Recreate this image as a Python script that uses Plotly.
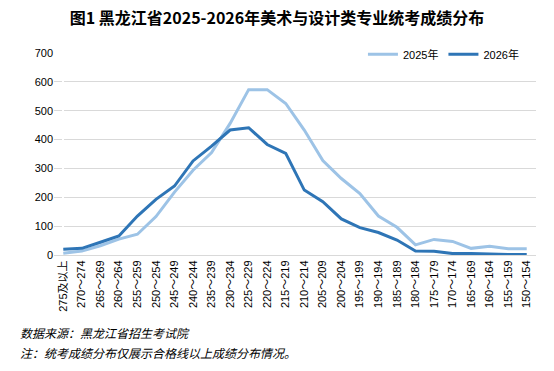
import plotly.graph_objects as go

categories = ["275及以上"] + [f"{s}～{s+4}" for s in range(270, 149, -5)]
values_2025 = [6, 14, 32, 55, 72, 133, 218, 294, 355, 456, 573, 573, 525, 433, 327, 265, 213, 135, 96, 35, 54, 47, 23, 30, 22, 22]
values_2026 = [20, 23, 44, 66, 135, 193, 239, 326, 377, 433, 441, 383, 352, 225, 185, 125, 95, 78, 52, 14, 13, 5, 5, 3, 2, 2]
series_names = ["2025年", "2026年"]
y_ticks = [0, 100, 200, 300, 400, 500, 600, 700]

fig = go.Figure()
fig.add_trace(go.Scatter(x=list(range(len(categories))), y=values_2025, mode="lines",
                         name=series_names[0], line=dict(color="#9DC3E6", width=3)))
fig.add_trace(go.Scatter(x=list(range(len(categories))), y=values_2026, mode="lines",
                         name=series_names[1], line=dict(color="#2E75B6", width=3)))

fig.update_layout(
    width=554, height=371,
    margin=dict(l=54, r=18, t=53, b=116, autoexpand=False),
    paper_bgcolor="white", plot_bgcolor="white",
    font=dict(family="Arial, Liberation Sans, Noto Sans CJK SC", size=11, color="#000000"),
    title=dict(text="<b>图1 黑龙江省2025-2026年美术与设计类专业统考成绩分布</b>",
               x=0.5, xanchor="center", y=0.950, yanchor="middle", yref="container",
               font=dict(family="Noto Sans CJK SC", size=16, color="#000000")),
    showlegend=True,
    legend=dict(orientation="h", x=0.975, xanchor="right", y=1.065, yanchor="top",
                bgcolor="rgba(0,0,0,0)", font=dict(size=11, family="Arial, Noto Sans CJK SC"),
                itemwidth=30, tracegroupgap=0),
    xaxis=dict(tickmode="array", tickvals=list(range(len(categories))), ticktext=categories,
               tickangle=-90, range=[-0.5, len(categories) - 0.5], showgrid=False,
               showline=True, linecolor="#d9d9d9", linewidth=1, ticks="", automargin=False,
               tickfont=dict(size=11, family="Arial, Noto Sans CJK SC")),
    yaxis=dict(range=[0, 700], tickvals=y_ticks, showgrid=True, gridcolor="#d9d9d9",
               gridwidth=1, zeroline=False, ticks="", automargin=False, tickfont=dict(size=11)),
)

fig.add_annotation(text="<i>数据来源：黑龙江省招生考试院</i>", xref="paper", yref="paper",
                   x=-0.075, xanchor="left", y=-0.386, yanchor="middle", showarrow=False,
                   font=dict(size=12, family="Noto Sans CJK SC"))
fig.add_annotation(text="<i>注：统考成绩分布仅展示合格线以上成绩分布情况。</i>", xref="paper", yref="paper",
                   x=-0.075, xanchor="left", y=-0.485, yanchor="middle", showarrow=False,
                   font=dict(size=12, family="Noto Sans CJK SC"))

# remove the default 8px page margin so the figure fills the window exactly
fig.write_html("out.html", config={"displayModeBar": False},
               post_script="document.body.style.margin='0px';")
